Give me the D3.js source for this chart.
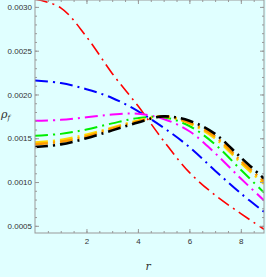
<!DOCTYPE html>
<html>
<head>
<meta charset="utf-8">
<script src="https://d3js.org/d3.v7.min.js"></script>
<style>
  body { margin: 0; background: #e0ffff; }
  svg { display: block; }
</style>
</head>
<body>
<div id="chart"></div>
<script>

// radius values where the curves were read
var rValues = [0, 1, 2, 3, 4, 5, 6, 7, 8, 8.9];

// density rho_f for each curve
var redVals     = [0.00309, 0.00299, 0.00266, 0.00224, 0.00187, 0.00147, 0.00111, 0.00085, 0.00064, 0.00046];
var blueVals    = [0.00216, 0.00213, 0.00206, 0.00196, 0.00181, 0.00162, 0.00140, 0.00113, 0.00087, 0.00066];
var magentaVals = [0.00170, 0.00171, 0.00174, 0.00177, 0.00178, 0.00172, 0.00158, 0.00133, 0.00104, 0.00079];
var greenVals   = [0.00153, 0.00155, 0.00160, 0.00167, 0.00173, 0.00174, 0.00164, 0.00143, 0.00114, 0.00088];
var yellowVals  = [0.00145, 0.00148, 0.00154, 0.00162, 0.00170, 0.00175, 0.00167, 0.00150, 0.00122, 0.00098];
var orangeVals  = [0.00143, 0.00146, 0.00152, 0.00161, 0.00169, 0.00175, 0.00168, 0.00152, 0.00124, 0.00101];
var blackVals   = [0.00140, 0.00143, 0.00150, 0.00159, 0.00168, 0.00175, 0.00170, 0.00155, 0.00128, 0.00104];

var seriesColors = ["red", "blue", "magenta", "#00ee00", "#ffd700", "#ff9900", "black"];
var seriesWidths = [1.6, 2, 2, 2, 2.6, 2.6, 2.6];
var seriesData = [redVals, blueVals, magentaVals, greenVals, yellowVals, orangeVals, blackVals];

var xTicks = [2, 4, 6, 8];
var yTicks = [0.0005, 0.0010, 0.0015, 0.0020, 0.0025, 0.0030];

var margin = {top: 0, right: 2, bottom: 44, left: 35},
    width = 266 - margin.left - margin.right,
    height = 277 - margin.top - margin.bottom;

var svg = d3.select("#chart")
  .append("svg")
    .attr("width", 266)
    .attr("height", 277)
  .append("g")
    .attr("transform", "translate(" + margin.left + "," + margin.top + ")");

var x = d3.scaleLinear().domain([0, 8.9]).range([0, width]);
var y = d3.scaleLinear().domain([0.000418, 0.003079]).range([height, 0]);

svg.append("clipPath").attr("id", "clip")
  .append("rect").attr("width", width).attr("height", height);

// curves
var line = d3.line()
  .x(function(d, i) { return x(rValues[i]); })
  .y(function(d) { return y(d); })
  .curve(d3.curveCatmullRom);

svg.append("g").attr("clip-path", "url(#clip)")
  .selectAll("path")
  .data(seriesData)
  .enter().append("path")
    .attr("d", line)
    .attr("fill", "none")
    .attr("stroke", function(d, i) { return seriesColors[i]; })
    .attr("stroke-width", function(d, i) { return seriesWidths[i]; })
    .attr("stroke-dasharray", "13,5,2,5");

// frame with inward ticks
var frameColor = "#999";
var xMinor = d3.range(0.5, 8.9, 0.5);
var yMinor = d3.range(0.0005, 0.00305, 0.0001);

function styleAxis(g) {
  g.select(".domain").remove();
  g.selectAll("line").attr("stroke", frameColor);
  g.selectAll("text").attr("fill", "#333").style("font", "8px 'Liberation Sans Narrow', 'Liberation Sans', sans-serif");
}

// bottom
svg.append("g").attr("transform", "translate(0," + height + ")")
  .call(d3.axisBottom(x).tickValues(xTicks).tickSize(-4).tickPadding(5).tickFormat(d3.format("d")))
  .call(styleAxis);
svg.append("g").attr("transform", "translate(0," + height + ")")
  .call(d3.axisBottom(x).tickValues(xMinor).tickSize(-2).tickFormat(""))
  .call(styleAxis);
// top
svg.append("g")
  .call(d3.axisTop(x).tickValues(xTicks).tickSize(-4).tickFormat(""))
  .call(styleAxis);
svg.append("g")
  .call(d3.axisTop(x).tickValues(xMinor).tickSize(-2).tickFormat(""))
  .call(styleAxis);
// left
svg.append("g")
  .call(d3.axisLeft(y).tickValues(yTicks).tickSize(-4).tickPadding(3).tickFormat(d3.format(".4f")))
  .call(styleAxis);
svg.append("g")
  .call(d3.axisLeft(y).tickValues(yMinor).tickSize(-2).tickFormat(""))
  .call(styleAxis);
// right
svg.append("g").attr("transform", "translate(" + width + ",0)")
  .call(d3.axisRight(y).tickValues(yTicks).tickSize(-4).tickFormat(""))
  .call(styleAxis);
svg.append("g").attr("transform", "translate(" + width + ",0)")
  .call(d3.axisRight(y).tickValues(yMinor).tickSize(-2).tickFormat(""))
  .call(styleAxis);

svg.append("rect")
  .attr("width", width).attr("height", height)
  .attr("fill", "none").attr("stroke", frameColor).attr("stroke-width", 1);

// axis labels
var yLabel = svg.append("text")
  .attr("x", -34).attr("y", 118)
  .style("font", "italic 11px 'DejaVu Serif', serif")
  .attr("fill", "#333");
yLabel.append("tspan").text("ρ");
yLabel.append("tspan").attr("dy", 2).style("font-size", "7px").text("f");

svg.append("text")
  .attr("x", width / 2 - 4).attr("y", height + 37)
  .style("font", "italic 11px 'DejaVu Serif', serif")
  .attr("fill", "#333")
  .text("r");

</script>
</body>
</html>
